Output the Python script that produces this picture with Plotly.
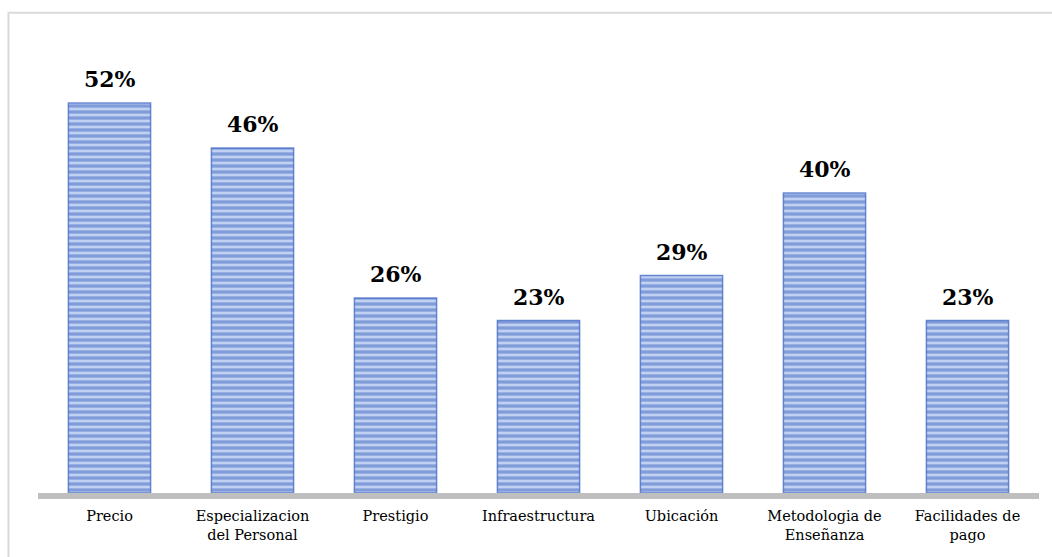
import plotly.graph_objects as go

categories = ["Precio", "Especializacion<br>del Personal", "Prestigio", "Infraestructura",
              "Ubicación", "Metodologia de<br>Enseñanza", "Facilidades de<br>pago"]
values = [52, 46, 26, 23, 29, 40, 23]
value_labels = [f"{v}%" for v in values]

SERIF = "DejaVu Serif"

fig = go.Figure()

fig.add_trace(go.Bar(
    x=categories,
    y=values,
    width=0.575,
    marker=dict(
        color="#bdcff0",
        line=dict(color="rgba(66,104,196,0.75)", width=1.5),
        pattern=dict(shape="-", fgcolor="#4368c4", bgcolor="#c0d1f1",
                     size=6, solidity=0.55, fillmode="overlay"),
    ),
    hoverinfo="skip",
))

for cat, v, lab in zip(categories, values, value_labels):
    fig.add_annotation(
        x=cat, y=v, text=f"<b>{lab}</b>", showarrow=False,
        yanchor="bottom", yshift=9,
        font=dict(family=SERIF, size=22, color="#000000"),
    )

# light frame around the chart area
fig.add_shape(type="rect", xref="paper", yref="paper",
              x0=-0.0295, x1=1.05, y0=-0.2, y1=1.067,
              line=dict(color="#d9d9d9", width=2), fillcolor="rgba(0,0,0,0)",
              layer="below")

fig.update_layout(
    width=1052, height=557,
    margin=dict(l=38, r=13, t=43, b=64),
    paper_bgcolor="white", plot_bgcolor="white",
    showlegend=False,
    font=dict(family=SERIF),
    bargap=0.425,
    xaxis=dict(
        showline=True, linecolor="#bfbfbf", linewidth=6,
        ticks="", showgrid=False, ticklabelstandoff=5,
        tickfont=dict(family=SERIF, size=14.5, color="#000000"),
    ),
    yaxis=dict(range=[0, 60], visible=False, showgrid=False, zeroline=False),
)

fig.write_html("out.html")
